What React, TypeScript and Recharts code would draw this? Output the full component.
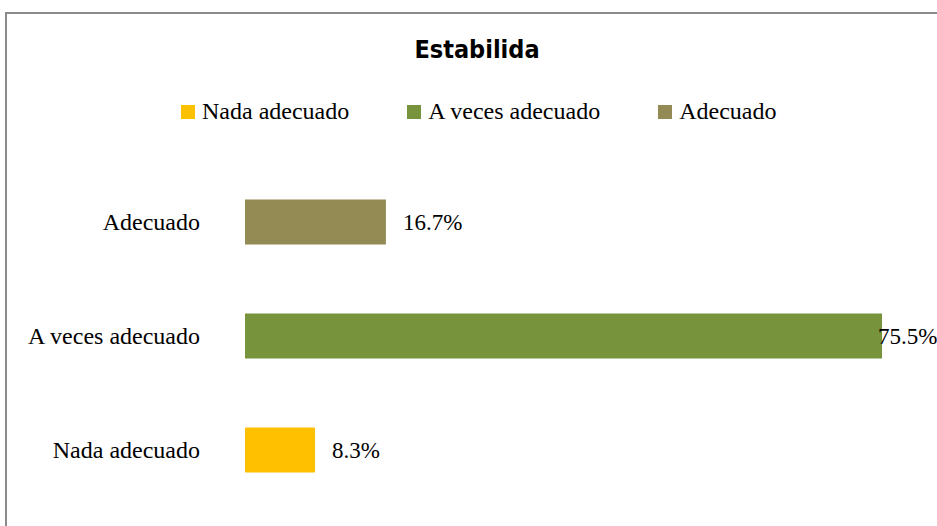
import { BarChart, Bar, XAxis, YAxis, Cell, LabelList, Legend } from "recharts";

const categories = ["Adecuado", "A veces adecuado", "Nada adecuado"];
const values = [16.7, 75.5, 8.3];
const colors = ["#948A54", "#77933C", "#FFC000"];
const legendOrder = ["Nada adecuado", "A veces adecuado", "Adecuado"];
const xTicks = [0, 80];

const data = categories.map((name, i) => ({ name, value: values[i], color: colors[i] }));

const W = 937;
const H = 526;
const serif = '"Liberation Serif", "Times New Roman", serif';

const CategoryTick = (props: any) => {
  const { x, y, payload } = props;
  return (
    <text x={x - 37} y={y} textAnchor="end" dominantBaseline="central" fontFamily={serif} fontSize={24} fill="#000">
      {payload.value}
    </text>
  );
};

const ValueLabel = (props: any) => {
  const { x, y, width, height, value } = props;
  // keep the label inside the picture when the bar runs to the edge
  const tx = Math.min(x + width + 17, W - 59);
  return (
    <text x={tx} y={y + height / 2} dominantBaseline="central" fontFamily={serif} fontSize={23} fill="#000">
      {value}%
    </text>
  );
};

const LegendBox = () => (
  <div style={{ display: "flex", alignItems: "center", fontFamily: serif, fontSize: 24, color: "#000", whiteSpace: "nowrap" }}>
    {legendOrder.map((name, i) => (
      <div key={name} style={{ display: "flex", alignItems: "center", marginRight: i < legendOrder.length - 1 ? 58 : 0 }}>
        <span style={{ width: 14, height: 14, background: colors[categories.indexOf(name)], marginRight: 7, display: "inline-block" }} />
        <span>{name}</span>
      </div>
    ))}
  </div>
);

export default function App() {
  return (
    <div style={{ position: "absolute", left: 0, top: 0, width: W, height: H, background: "#fff", overflow: "hidden" }}>
      <div style={{ position: "absolute", left: 5, top: 12, width: W + 10, height: H + 10, borderLeft: "2px solid #8a8a8a", borderTop: "2px solid #8a8a8a" }} />
      <div
        style={{
          position: "absolute",
          left: 0,
          top: 38,
          width: 954,
          textAlign: "center",
          fontFamily: '"DejaVu Sans Condensed", "DejaVu Sans", sans-serif',
          fontWeight: "bold",
          fontSize: 25,
          lineHeight: "24px",
          color: "#000",
        }}
      >
        Estabilida
      </div>
      <BarChart width={W} height={H} data={data} layout="vertical" margin={{ top: 164.5, right: 17, bottom: 19.5, left: 0 }}>
        <XAxis type="number" domain={[xTicks[0], xTicks[1]]} hide />
        <YAxis type="category" dataKey="name" width={245} axisLine={false} tickLine={false} tick={<CategoryTick />} />
        <Legend verticalAlign="middle" align="center" layout="horizontal" content={<LegendBox />} wrapperStyle={{ top: 98, left: 181, width: 700 }} />
        <Bar dataKey="value" barSize={45} isAnimationActive={false}>
          {data.map((d) => (
            <Cell key={d.name} fill={d.color} />
          ))}
          <LabelList dataKey="value" content={<ValueLabel />} />
        </Bar>
      </BarChart>
    </div>
  );
}
